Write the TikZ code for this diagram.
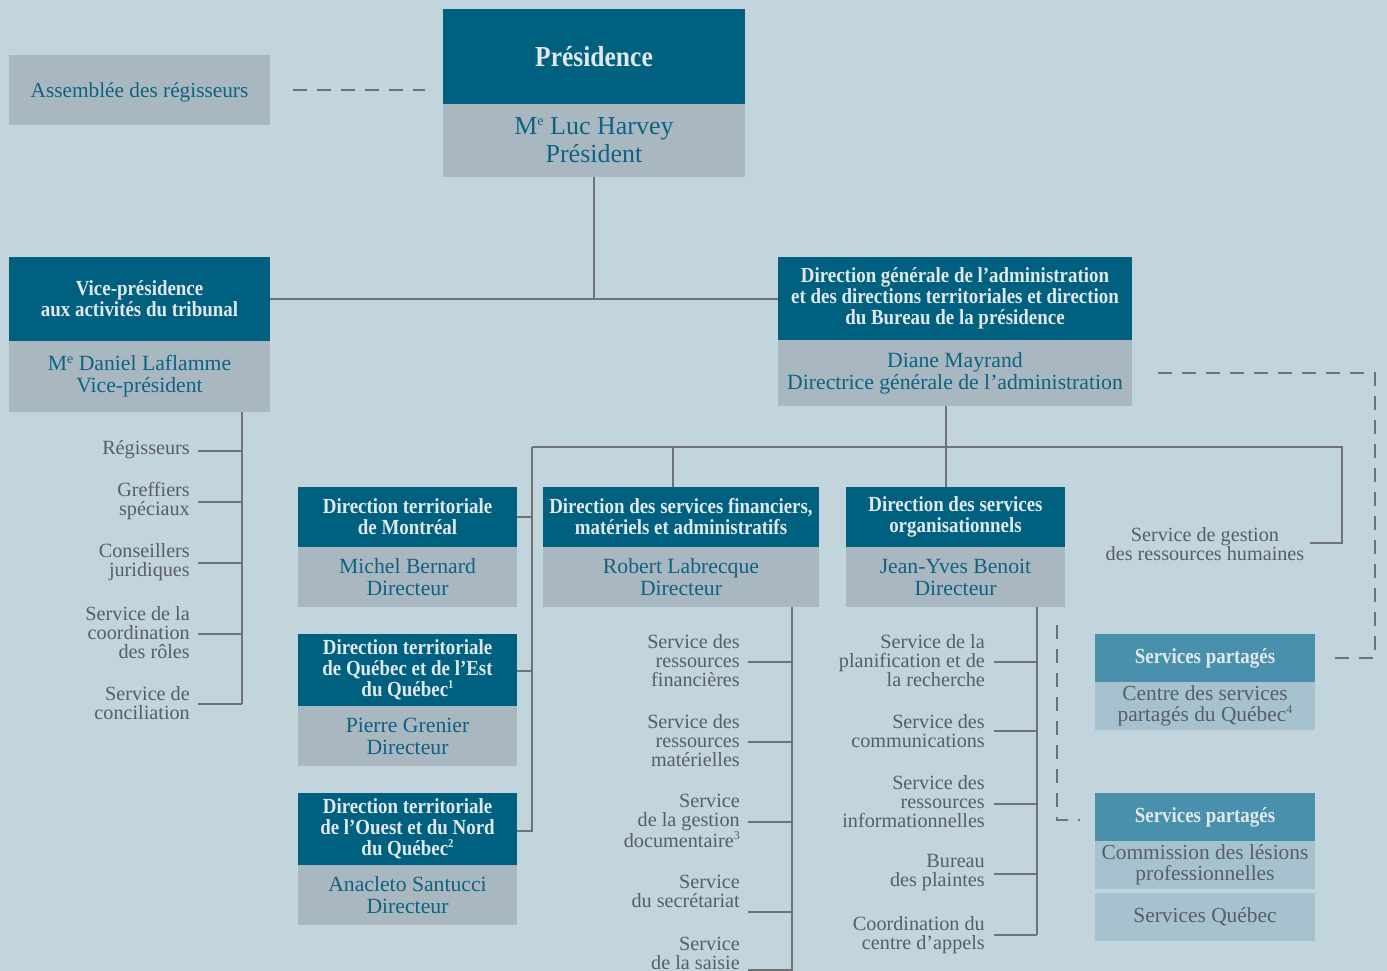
\documentclass[tikz,border=0pt]{standalone}
\usepackage{fontspec}
\setmainfont{Liberation Serif}
\newfontfamily\hdrfont[FakeStretch=0.88]{Liberation Serif}
\usetikzlibrary{calc}
\definecolor{bgc}{HTML}{C2D4DC}
\definecolor{darkc}{HTML}{00607F}
\definecolor{greyc}{HTML}{A9B7C0}
\definecolor{tealtext}{HTML}{0D6384}
\definecolor{hdrtext}{HTML}{E0E8EC}
\definecolor{labtext}{HTML}{595E65}
\definecolor{linec}{HTML}{6F7277}
\definecolor{sphdr}{HTML}{4890AB}
\definecolor{spbody}{HTML}{A6C2CF}
\newcommand\hdrb{\hdrfont\bfseries\fontsize{21.5}{21}\selectfont}
\newcommand\bodyf{\fontsize{21.7}{22}\selectfont}
\newcommand\labf{\fontsize{20.2}{19}\selectfont}
\newcommand\fnsup[1]{\raisebox{0.4em}{\fontsize{12}{12}\selectfont #1}}
\newcommand\mesup{M\raisebox{0.36em}{\fontsize{14}{14}\selectfont e}}
\begin{document}
\begin{tikzpicture}[x=1pt,y=-1pt,
  box/.style={inner sep=0pt, outer sep=0pt, anchor=north west, align=center, minimum width=#1},
  hdr/.style={fill=darkc, text=hdrtext, font=\hdrb},
  body/.style={fill=greyc, text=tealtext, font=\bodyf},
  sph/.style={fill=sphdr, text=hdrtext, font=\hdrb},
  spb/.style={fill=spbody, text=labtext, font=\fontsize{21.4}{21}\selectfont},
  lab/.style={text=labtext, font=\labf, align=right, anchor=east, inner sep=0pt},
  conn/.style={draw=linec, line width=1.3pt},
  dsh/.style={draw=linec, line width=1.3pt, dash pattern=on 14pt off 10pt}]
\fill[bgc] (0,0) rectangle (1387,971);
\useasboundingbox (0,0) rectangle (1387,971);

% Assemblee
\node[box=261, body, minimum height=70, font=\fontsize{21.3}{22}\selectfont, text height=18pt, text depth=2pt] (asm) at (9,55) {Assemblée des régisseurs};

% Presidence
\node[box=302, hdr, minimum height=95, font=\hdrfont\bfseries\fontsize{29}{30}\selectfont] (pres-h) at (443,9) {Présidence};
\node[box=302, body, minimum height=73, font=\fontsize{26}{28}\selectfont] (pres-b) at (443,104) {\mesup\ Luc Harvey\\Président};

% Vice-presidence
\node[box=261, hdr, minimum height=84] (vp-h) at (9,257) {Vice-présidence\\aux activités du tribunal};
\node[box=261, body, minimum height=71] (vp-b) at (9,341) {\mesup\ Daniel Laflamme\\Vice-président};

% Direction generale
\node[box=354, hdr, minimum height=83] (dg-h) at (778,257) {Direction générale de l’administration\\et des directions territoriales et direction\\du Bureau de la présidence};
\node[box=354, body, minimum height=66] (dg-b) at (778,340) {Diane Mayrand\\Directrice générale de l’administration};

% Directions territoriales
\node[box=219, hdr, minimum height=60] (mtl-h) at (298,487) {Direction territoriale\\de Montréal};
\node[box=219, body, minimum height=60] (mtl-b) at (298,547) {Michel Bernard\\Directeur};
\node[box=219, hdr, minimum height=72] (qc-h) at (298,634) {Direction territoriale\\de Québec et de l’Est\\du Québec\fnsup{1}};
\node[box=219, body, minimum height=60] (qc-b) at (298,706) {Pierre Grenier\\Directeur};
\node[box=219, hdr, minimum height=72] (on-h) at (298,793) {Direction territoriale\\de l’Ouest et du Nord\\du Québec\fnsup{2}};
\node[box=219, body, minimum height=60] (on-b) at (298,865) {Anacleto Santucci\\Directeur};

% DSFMA and DSO
\node[box=276, hdr, minimum height=60] (fin-h) at (543,487) {Direction des services financiers,\\matériels et administratifs};
\node[box=276, body, minimum height=60] (fin-b) at (543,547) {Robert Labrecque\\Directeur};
\node[box=219, hdr, minimum height=60] (org-h) at (846,487) {Direction des services\\organisationnels};
\node[box=219, body, minimum height=60] (org-b) at (846,547) {Jean-Yves Benoit\\Directeur};

% Services partages
\node[box=220, sph, minimum height=48] (sp1-h) at (1095,634) {Services partagés};
\node[box=220, spb, minimum height=48] (sp1-b) at (1095,682) {Centre des services\\partagés du Québec\fnsup{4}};
\node[box=220, sph, minimum height=48] (sp2-h) at (1095,793) {Services partagés};
\node[box=220, spb, minimum height=48] (sp2-b) at (1095,841) {Commission des lésions\\professionnelles};
\node[box=220, spb, minimum height=48] (sp2-c) at (1095,893) {Services Québec};

% VP labels
\node[lab] (v1) at (190,450) {Régisseurs};
\node[lab] (v2) at (190,501) {Greffiers\\spéciaux};
\node[lab] (v3) at (190,562) {Conseillers\\juridiques};
\node[lab] (v4) at (190,633) {Service de la\\coordination\\des rôles};
\node[lab] (v5) at (190,703) {Service de\\conciliation};

% DSFMA labels
\node[lab] (f1) at (740,661) {Service des\\ressources\\financières};
\node[lab] (f2) at (740,741) {Service des\\ressources\\matérielles};
\node[lab] (f3) at (740,821) {Service\\de la gestion\\documentaire\fnsup{3}};
\node[lab] (f4) at (740,891) {Service\\du secrétariat};
\node[lab] (f5) at (740,953) {Service\\de la saisie};

% DSO labels
\node[lab] (o1) at (985,661) {Service de la\\planification et de\\la recherche};
\node[lab] (o2) at (985,731) {Service des\\communications};
\node[lab] (o3) at (985,802) {Service des\\ressources\\informationnelles};
\node[lab] (o4) at (985,873) {Bureau\\des plaintes};
\node[lab] (o5) at (985,935) {Coordination du\\centre d’appels};

% HR label
\node[lab, align=center, anchor=center] (hr) at (1205,544) {Service de gestion\\des ressources humaines};

% coordinates
\coordinate (vpv) at (242,412);
\coordinate (dgv) at (946,406);
\coordinate (lv) at (532,447);
\coordinate (rv) at (1342,447);
\coordinate (finv) at (673,447);
\coordinate (fv) at (792,607);
\coordinate (ov) at (1037,607);
\coordinate (fend) at (792,971);
\coordinate (dA) at (1375,373);
\coordinate (dB) at (1057,625);

% connectors
\draw[conn] (pres-b.south) -- (pres-b.south |- vp-h.east);
\draw[conn] (vp-h.east) -- (vp-h.east -| dg-h.west);

\draw[conn] (vpv) -- (242,704);
\foreach \n/\dy in {v1/1,v2/1,v3/1,v4/1,v5/1}{
  \draw[conn] ($(\n.east)+(8,\dy)$) -- ($(\n.east -| vpv)+(0,\dy)$);
}

\draw[conn] (dgv) -- (org-h.north -| dgv);
\draw[conn] (lv) -- (rv) -- (1342,543) -- (1310,543);
\draw[conn] (finv) -- (finv |- fin-h.north);
\draw[conn] (lv) -- (532,831) -- (on-h.east |- 0,831);
\draw[conn] (532,517) -- (mtl-h.east |- 0,517);
\draw[conn] (532,671) -- (qc-h.east |- 0,671);

\draw[conn] (fv) -- (fend);
\foreach \n/\dy in {f1/1,f2/1,f3/1,f4/21,f5/17}{
  \draw[conn] ($(\n.east)+(8,\dy)$) -- ($(\n.east -| fv)+(0,\dy)$);
}
\draw[conn] (ov) -- (1037,935);
\foreach \n/\dy in {o1/1,o2/0,o3/2,o4/1,o5/0}{
  \draw[conn] ($(\n.east)+(9,\dy)$) -- ($(\n.east -| ov)+(0,\dy)$);
}

% dashed
\draw[dsh] ($(asm.east)+(23,0)$) -- ($(asm.east -| pres-h.west)+(-18,0)$);
\draw[dsh] ($(dg-b.east)+(26,0)$) -- (dA) -- (dA |- sp1-h.east) -- ($(sp1-h.east)+(15,0)$);
\draw[dsh] (dB) -- (dB |- 0,820) -- (1080,820);
\end{tikzpicture}
\end{document}
